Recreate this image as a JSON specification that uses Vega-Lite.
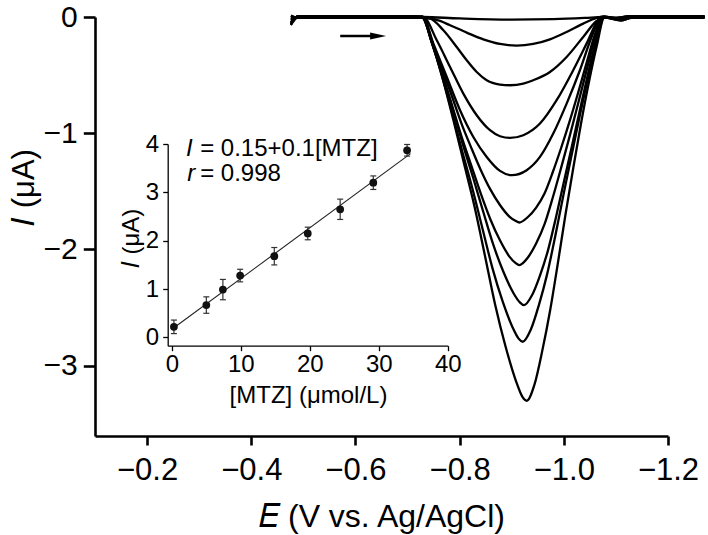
{
  "$schema": "https://vega.github.io/schema/vega-lite/v6.json",
  "width": 573,
  "height": 419,
  "autosize": "none",
  "padding": {"left": 95, "top": 17, "right": 40, "bottom": 99},
  "background": "white",
  "config": {
    "view": {"stroke": null},
    "font": "Liberation Sans",
    "axis": {"grid": false, "domainColor": "black", "tickColor": "black", "labelColor": "black", "titleColor": "black", "titleFontWeight": "normal", "labelFont": "Liberation Sans", "titleFont": "Liberation Sans"}
  },
  "datasets": {
    "cv": [
      {"k":0,"E":-0.476,"I":-0.06},{"k":0,"E":-0.488,"I":0.004},{"k":0,"E":-0.55,"I":0.006},{"k":0,"E":-0.65,"I":0.004},{"k":0,"E":-0.73,"I":0.0},{"k":0,"E":-0.8,"I":-0.012},{"k":0,"E":-0.9,"I":-0.022},{"k":0,"E":-0.98,"I":-0.018},{"k":0,"E":-1.04,"I":-0.008},{"k":0,"E":-1.075,"I":0.0},{"k":0,"E":-1.11,"I":-0.02},{"k":0,"E":-1.135,"I":0.0},{"k":0,"E":-1.2,"I":0.004},{"k":0,"E":-1.27,"I":0.003},

      {"k":1,"E":-0.476,"I":-0.045},{"k":1,"E":-0.49,"I":0.008},{"k":1,"E":-0.55,"I":0.008},{"k":1,"E":-0.65,"I":0.008},{"k":1,"E":-0.715,"I":0.005},{"k":1,"E":-0.737,"I":-0.005},{"k":1,"E":-0.7624,"I":-0.034},{"k":1,"E":-0.7816,"I":-0.071},{"k":1,"E":-0.8136,"I":-0.134},{"k":1,"E":-0.8455,"I":-0.192},{"k":1,"E":-0.8775,"I":-0.232},{"k":1,"E":-0.9095,"I":-0.246},{"k":1,"E":-0.9413,"I":-0.232},{"k":1,"E":-0.9734,"I":-0.192},{"k":1,"E":-1.0054,"I":-0.129},{"k":1,"E":-1.0372,"I":-0.057},{"k":1,"E":-1.063,"I":-0.008},{"k":1,"E":-1.075,"I":0.004},{"k":1,"E":-1.1,"I":-0.008},{"k":1,"E":-1.125,"I":0.008},{"k":1,"E":-1.18,"I":0.008},{"k":1,"E":-1.27,"I":0.006},

      {"k":2,"E":-0.476,"I":-0.02},{"k":2,"E":-0.49,"I":0.0},{"k":2,"E":-0.55,"I":0.0},{"k":2,"E":-0.65,"I":0.0},{"k":2,"E":-0.715,"I":0.0},{"k":2,"E":-0.7433,"I":-0.014},{"k":2,"E":-0.7688,"I":-0.114},{"k":2,"E":-0.7944,"I":-0.258},{"k":2,"E":-0.8136,"I":-0.372},{"k":2,"E":-0.8328,"I":-0.473},{"k":2,"E":-0.852,"I":-0.544},{"k":2,"E":-0.8775,"I":-0.581},{"k":2,"E":-0.8967,"I":-0.587},{"k":2,"E":-0.9222,"I":-0.573},{"k":2,"E":-0.9413,"I":-0.544},{"k":2,"E":-0.9734,"I":-0.473},{"k":2,"E":-1.0054,"I":-0.344},{"k":2,"E":-1.0372,"I":-0.172},{"k":2,"E":-1.063,"I":-0.034},{"k":2,"E":-1.0756,"I":-0.005},{"k":2,"E":-1.1,"I":-0.008},{"k":2,"E":-1.125,"I":0.0},{"k":2,"E":-1.18,"I":0.0},{"k":2,"E":-1.27,"I":0.0},

      {"k":3,"E":-0.476,"I":0.012},{"k":3,"E":-0.49,"I":-0.008},{"k":3,"E":-0.55,"I":-0.008},{"k":3,"E":-0.65,"I":-0.008},{"k":3,"E":-0.71,"I":-0.006},{"k":3,"E":-0.7304,"I":-0.003},{"k":3,"E":-0.7561,"I":-0.2},{"k":3,"E":-0.7816,"I":-0.43},{"k":3,"E":-0.8071,"I":-0.659},{"k":3,"E":-0.8328,"I":-0.845},{"k":3,"E":-0.8583,"I":-0.974},{"k":3,"E":-0.8775,"I":-1.026},{"k":3,"E":-0.8967,"I":-1.04},{"k":3,"E":-0.9222,"I":-1.017},{"k":3,"E":-0.9542,"I":-0.917},{"k":3,"E":-0.9862,"I":-0.716},{"k":3,"E":-1.018,"I":-0.458},{"k":3,"E":-1.0437,"I":-0.229},{"k":3,"E":-1.066,"I":-0.028},{"k":3,"E":-1.073,"I":-0.004},{"k":3,"E":-1.1,"I":-0.008},{"k":3,"E":-1.125,"I":-0.008},{"k":3,"E":-1.18,"I":-0.008},{"k":3,"E":-1.27,"I":-0.006},

      {"k":4,"E":-0.476,"I":-0.065},{"k":4,"E":-0.49,"I":0.008},{"k":4,"E":-0.55,"I":0.008},{"k":4,"E":-0.65,"I":0.008},{"k":4,"E":-0.71,"I":0.006},{"k":4,"E":-0.7292,"I":0.002},{"k":4,"E":-0.7496,"I":-0.229},{"k":4,"E":-0.7753,"I":-0.516},{"k":4,"E":-0.8008,"I":-0.802},{"k":4,"E":-0.8263,"I":-1.032},{"k":4,"E":-0.852,"I":-1.204},{"k":4,"E":-0.8775,"I":-1.324},{"k":4,"E":-0.9,"I":-1.361},{"k":4,"E":-0.9287,"I":-1.318},{"k":4,"E":-0.9542,"I":-1.204},{"k":4,"E":-0.9797,"I":-1.003},{"k":4,"E":-1.0054,"I":-0.745},{"k":4,"E":-1.0309,"I":-0.458},{"k":4,"E":-1.0533,"I":-0.172},{"k":4,"E":-1.0692,"I":-0.014},{"k":4,"E":-1.076,"I":0.004},{"k":4,"E":-1.1,"I":-0.01},{"k":4,"E":-1.125,"I":0.008},{"k":4,"E":-1.18,"I":0.008},{"k":4,"E":-1.27,"I":0.006},

      {"k":5,"E":-0.476,"I":-0.03},{"k":5,"E":-0.49,"I":0.0},{"k":5,"E":-0.55,"I":0.0},{"k":5,"E":-0.65,"I":0.0},{"k":5,"E":-0.71,"I":0.0},{"k":5,"E":-0.729,"I":0.0},{"k":5,"E":-0.7476,"I":-0.2175},{"k":5,"E":-0.7661,"I":-0.4438},{"k":5,"E":-0.7847,"I":-0.6754},{"k":5,"E":-0.8032,"I":-0.9123},{"k":5,"E":-0.8218,"I":-1.1191},{"k":5,"E":-0.8403,"I":-1.3136},{"k":5,"E":-0.8589,"I":-1.4834},{"k":5,"E":-0.8774,"I":-1.6177},{"k":5,"E":-0.896,"I":-1.7194},{"k":5,"E":-0.9071,"I":-1.753},{"k":5,"E":-0.9145,"I":-1.768},{"k":5,"E":-0.9306,"I":-1.7229},{"k":5,"E":-0.9466,"I":-1.6416},{"k":5,"E":-0.9627,"I":-1.5205},{"k":5,"E":-0.9787,"I":-1.3357},{"k":5,"E":-0.9948,"I":-1.1271},{"k":5,"E":-1.0108,"I":-0.9026},{"k":5,"E":-1.0269,"I":-0.6603},{"k":5,"E":-1.0429,"I":-0.4081},{"k":5,"E":-1.059,"I":-0.1597},{"k":5,"E":-1.075,"I":0.0},{"k":5,"E":-1.11,"I":-0.025},{"k":5,"E":-1.13,"I":0.0},{"k":5,"E":-1.18,"I":0.0},{"k":5,"E":-1.27,"I":0.0},

      {"k":6,"E":-0.476,"I":0.008},{"k":6,"E":-0.49,"I":-0.008},{"k":6,"E":-0.55,"I":-0.008},{"k":6,"E":-0.65,"I":-0.008},{"k":6,"E":-0.71,"I":-0.006},{"k":6,"E":-0.729,"I":-0.003},{"k":6,"E":-0.7476,"I":-0.2306},{"k":6,"E":-0.7661,"I":-0.4846},{"k":6,"E":-0.7847,"I":-0.7494},{"k":6,"E":-0.8032,"I":-1.0227},{"k":6,"E":-0.8218,"I":-1.2703},{"k":6,"E":-0.8403,"I":-1.5159},{"k":6,"E":-0.8589,"I":-1.74},{"k":6,"E":-0.8774,"I":-1.9215},{"k":6,"E":-0.896,"I":-2.0635},{"k":6,"E":-0.9071,"I":-2.1158},{"k":6,"E":-0.9145,"I":-2.135},{"k":6,"E":-0.9307,"I":-2.071},{"k":6,"E":-0.9468,"I":-1.9493},{"k":6,"E":-0.963,"I":-1.7827},{"k":6,"E":-0.9791,"I":-1.5489},{"k":6,"E":-0.9953,"I":-1.2895},{"k":6,"E":-1.0114,"I":-1.0227},{"k":6,"E":-1.0276,"I":-0.7419},{"k":6,"E":-1.0437,"I":-0.4582},{"k":6,"E":-1.0599,"I":-0.1847},{"k":6,"E":-1.076,"I":-0.003},{"k":6,"E":-1.11,"I":-0.028},{"k":6,"E":-1.13,"I":-0.008},{"k":6,"E":-1.18,"I":-0.008},{"k":6,"E":-1.27,"I":-0.006},

      {"k":7,"E":-0.476,"I":-0.05},{"k":7,"E":-0.49,"I":0.008},{"k":7,"E":-0.55,"I":0.008},{"k":7,"E":-0.65,"I":0.008},{"k":7,"E":-0.71,"I":0.006},{"k":7,"E":-0.728,"I":0.003},{"k":7,"E":-0.7476,"I":-0.233},{"k":7,"E":-0.7671,"I":-0.5008},{"k":7,"E":-0.7867,"I":-0.7933},{"k":7,"E":-0.8062,"I":-1.0957},{"k":7,"E":-0.8258,"I":-1.3808},{"k":7,"E":-0.8453,"I":-1.6758},{"k":7,"E":-0.8649,"I":-1.9634},{"k":7,"E":-0.8844,"I":-2.1964},{"k":7,"E":-0.904,"I":-2.3811},{"k":7,"E":-0.9157,"I":-2.4559},{"k":7,"E":-0.9235,"I":-2.479},{"k":7,"E":-0.9389,"I":-2.394},{"k":7,"E":-0.9542,"I":-2.2244},{"k":7,"E":-0.9696,"I":-2.0075},{"k":7,"E":-0.9849,"I":-1.7241},{"k":7,"E":-1.0003,"I":-1.4155},{"k":7,"E":-1.0156,"I":-1.1089},{"k":7,"E":-1.031,"I":-0.797},{"k":7,"E":-1.0463,"I":-0.4916},{"k":7,"E":-1.0617,"I":-0.205},{"k":7,"E":-1.077,"I":0.003},{"k":7,"E":-1.11,"I":-0.022},{"k":7,"E":-1.13,"I":0.008},{"k":7,"E":-1.18,"I":0.008},{"k":7,"E":-1.27,"I":0.006},

      {"k":8,"E":-0.476,"I":-0.07},{"k":8,"E":-0.49,"I":0.0},{"k":8,"E":-0.55,"I":0.0},{"k":8,"E":-0.65,"I":0.0},{"k":8,"E":-0.71,"I":0.0},{"k":8,"E":-0.728,"I":0.0},{"k":8,"E":-0.7473,"I":-0.2319},{"k":8,"E":-0.7666,"I":-0.5141},{"k":8,"E":-0.7859,"I":-0.8298},{"k":8,"E":-0.8052,"I":-1.1595},{"k":8,"E":-0.8245,"I":-1.4752},{"k":8,"E":-0.8438,"I":-1.8189},{"k":8,"E":-0.8631,"I":-2.1626},{"k":8,"E":-0.8824,"I":-2.4448},{"k":8,"E":-0.9017,"I":-2.6711},{"k":8,"E":-0.9133,"I":-2.7672},{"k":8,"E":-0.921,"I":-2.794},{"k":8,"E":-0.9367,"I":-2.689},{"k":8,"E":-0.9524,"I":-2.4744},{"k":8,"E":-0.9681,"I":-2.2101},{"k":8,"E":-0.9838,"I":-1.8804},{"k":8,"E":-0.9995,"I":-1.5261},{"k":8,"E":-1.0152,"I":-1.1835},{"k":8,"E":-1.0309,"I":-0.8438},{"k":8,"E":-1.0466,"I":-0.5202},{"k":8,"E":-1.0623,"I":-0.223},{"k":8,"E":-1.078,"I":0.0},{"k":8,"E":-1.11,"I":-0.025},{"k":8,"E":-1.13,"I":0.0},{"k":8,"E":-1.18,"I":0.0},{"k":8,"E":-1.27,"I":0.0},

      {"k":9,"E":-0.476,"I":-0.01},{"k":9,"E":-0.49,"I":-0.008},{"k":9,"E":-0.55,"I":-0.008},{"k":9,"E":-0.65,"I":-0.008},{"k":9,"E":-0.71,"I":-0.006},{"k":9,"E":-0.727,"I":-0.003},{"k":9,"E":-0.7472,"I":-0.2245},{"k":9,"E":-0.7673,"I":-0.5283},{"k":9,"E":-0.7875,"I":-0.8783},{"k":9,"E":-0.8077,"I":-1.2482},{"k":9,"E":-0.8279,"I":-1.618},{"k":9,"E":-0.848,"I":-2.0406},{"k":9,"E":-0.8682,"I":-2.4765},{"k":9,"E":-0.8884,"I":-2.8397},{"k":9,"E":-0.9085,"I":-3.1369},{"k":9,"E":-0.9206,"I":-3.269},{"k":9,"E":-0.9287,"I":-3.302},{"k":9,"E":-0.9436,"I":-3.1633},{"k":9,"E":-0.9586,"I":-2.8727},{"k":9,"E":-0.9735,"I":-2.5293},{"k":9,"E":-0.9884,"I":-2.1232},{"k":9,"E":-1.0034,"I":-1.6939},{"k":9,"E":-1.0183,"I":-1.2944},{"k":9,"E":-1.0332,"I":-0.9114},{"k":9,"E":-1.0481,"I":-0.5613},{"k":9,"E":-1.0631,"I":-0.251},{"k":9,"E":-1.078,"I":-0.003},{"k":9,"E":-1.11,"I":-0.03},{"k":9,"E":-1.13,"I":-0.008},{"k":9,"E":-1.18,"I":-0.008},{"k":9,"E":-1.27,"I":-0.006}
    ],
    "arrow": [{"E1": -0.5707, "E2": -0.636, "I": -0.1635}],
    "arrowhead": [{"E": -0.6435, "I": -0.1635}],
    "pts": [
      {"c":0.3,"m":0.22,"lo":0.08,"hi":0.36},
      {"c":5.0,"m":0.67,"lo":0.5,"hi":0.84},
      {"c":7.4,"m":0.99,"lo":0.78,"hi":1.2},
      {"c":9.9,"m":1.28,"lo":1.15,"hi":1.41},
      {"c":14.85,"m":1.68,"lo":1.5,"hi":1.86},
      {"c":19.7,"m":2.15,"lo":2.02,"hi":2.28},
      {"c":24.4,"m":2.65,"lo":2.44,"hi":2.86},
      {"c":29.2,"m":3.2,"lo":3.06,"hi":3.34},
      {"c":34.1,"m":3.87,"lo":3.75,"hi":3.99}
    ],
    "fit": [{"c":0.3,"m":0.2},{"c":34.6,"m":3.8}],
    "ann": [
      {"tx":2.07,"ty":3.76,"t":"I","s":"italic"},
      {"tx":4.1,"ty":3.76,"t":"= 0.15+0.1[MTZ]","s":"normal"},
      {"tx":2.22,"ty":3.24,"t":"r","s":"italic"},
      {"tx":4.1,"ty":3.24,"t":"= 0.998","s":"normal"}
    ]
  },
  "layer": [
    {
      "layer": [
        {
          "data": {"name": "cv"},
          "mark": {"type": "line", "color": "black", "strokeWidth": 2.3, "interpolate": "monotone", "clip": false},
          "encoding": {
            "x": {"field": "E", "type": "quantitative",
              "scale": {"domain": [-1.2, -0.1], "reverse": true, "nice": false, "zero": false},
              "axis": {"values": [-0.2, -0.4, -0.6, -0.8, -1.0, -1.2], "format": ".1f", "domainWidth": 2.6, "tickWidth": 2.6, "tickSize": 9, "labelFontSize": 31, "labelPadding": 10, "labelFlush": false, "labelOverlap": false, "labelBound": false, "title": "𝐸 (V vs. Ag/AgCl)", "titleFontSize": 32, "titleY": 90, "titleBaseline": "alphabetic"}},
            "y": {"field": "I", "type": "quantitative",
              "scale": {"domain": [-3.605, 0], "nice": false, "zero": false},
              "axis": {"values": [0, -1, -2, -3], "format": "d", "domainWidth": 2.6, "tickWidth": 2.6, "tickSize": 11.7, "labelFontSize": 30, "labelPadding": 6, "labelOverlap": false, "labelBound": false, "title": "𝐼 (μA)", "titleFontSize": 31, "titleX": -62, "titleY": 170, "titleAngle": -90, "titleBaseline": "alphabetic", "titleAlign": "center"}},
            "detail": {"field": "k", "type": "nominal"},
            "order": {"field": "E", "sort": "descending"}
          }
        },
        {
          "data": {"name": "arrow"},
          "mark": {"type": "rule", "color": "black", "strokeWidth": 2.5},
          "encoding": {
            "x": {"field": "E1", "type": "quantitative"},
            "x2": {"field": "E2"},
            "y": {"field": "I", "type": "quantitative"}
          }
        },
        {
          "data": {"name": "arrowhead"},
          "mark": {"type": "point", "shape": "M-1,-0.45L1,0L-1,0.45Z", "filled": true, "color": "black", "size": 256, "opacity": 1},
          "encoding": {
            "x": {"field": "E", "type": "quantitative"},
            "y": {"field": "I", "type": "quantitative"}
          }
        }
      ]
    },
    {
      "layer": [
        {
          "data": {"name": "fit"},
          "mark": {"type": "line", "color": "#222", "strokeWidth": 1.1},
          "encoding": {
            "x": {"field": "c", "type": "quantitative",
              "scale": {"domain": [-0.6, 40], "range": [72.7, 352.8], "nice": false, "zero": false},
              "axis": {"orient": "bottom", "offset": -90.3, "values": [0, 10, 20, 30, 40], "format": "d", "domainWidth": 1.3, "tickWidth": 1.3, "tickSize": 5, "labelFontSize": 24, "labelPadding": 2, "labelFlush": false, "labelOverlap": false, "labelBound": false, "title": "[MTZ] (μmol/L)", "titleFontSize": 24, "titleX": 213, "titleY": 56.3, "titleBaseline": "alphabetic", "titleAlign": "center"}},
            "y": {"field": "m", "type": "quantitative",
              "scale": {"domain": [-0.17, 4], "range": [328.7, 127], "nice": false, "zero": false},
              "axis": {"orient": "left", "offset": -72.7, "values": [0, 1, 2, 3, 4], "format": "d", "domainWidth": 1.3, "tickWidth": 1.3, "tickSize": 5, "labelFontSize": 24, "labelPadding": 4, "labelOverlap": false, "labelBound": false, "title": "𝐼 (μA)", "titleFontSize": 24, "titleX": -29.7, "titleY": 221, "titleAngle": -90, "titleBaseline": "alphabetic", "titleAlign": "center"}}
          }
        },
        {
          "data": {"name": "pts"},
          "mark": {"type": "rule", "color": "#333", "strokeWidth": 1.2},
          "encoding": {
            "x": {"field": "c", "type": "quantitative"},
            "y": {"field": "lo", "type": "quantitative"},
            "y2": {"field": "hi"}
          }
        },
        {
          "data": {"name": "pts"},
          "mark": {"type": "tick", "orient": "horizontal", "size": 6, "thickness": 1.2, "color": "#333", "opacity": 1},
          "encoding": {
            "x": {"field": "c", "type": "quantitative"},
            "y": {"field": "lo", "type": "quantitative"}
          }
        },
        {
          "data": {"name": "pts"},
          "mark": {"type": "tick", "orient": "horizontal", "size": 6, "thickness": 1.2, "color": "#333", "opacity": 1},
          "encoding": {
            "x": {"field": "c", "type": "quantitative"},
            "y": {"field": "hi", "type": "quantitative"}
          }
        },
        {
          "data": {"name": "pts"},
          "mark": {"type": "point", "filled": true, "size": 60, "color": "#111", "opacity": 1},
          "encoding": {
            "x": {"field": "c", "type": "quantitative"},
            "y": {"field": "m", "type": "quantitative"}
          }
        },
        {
          "data": {"name": "ann"},
          "transform": [{"filter": "datum.s === 'italic'"}],
          "mark": {"type": "text", "fontSize": 24, "fontStyle": "italic", "align": "left", "baseline": "alphabetic", "color": "black"},
          "encoding": {
            "x": {"field": "tx", "type": "quantitative"},
            "y": {"field": "ty", "type": "quantitative"},
            "text": {"field": "t"}
          }
        },
        {
          "data": {"name": "ann"},
          "transform": [{"filter": "datum.s === 'normal'"}],
          "mark": {"type": "text", "fontSize": 24, "align": "left", "baseline": "alphabetic", "color": "black"},
          "encoding": {
            "x": {"field": "tx", "type": "quantitative"},
            "y": {"field": "ty", "type": "quantitative"},
            "text": {"field": "t"}
          }
        }
      ]
    }
  ],
  "resolve": {"scale": {"x": "independent", "y": "independent"}, "axis": {"x": "independent", "y": "independent"}}
}
